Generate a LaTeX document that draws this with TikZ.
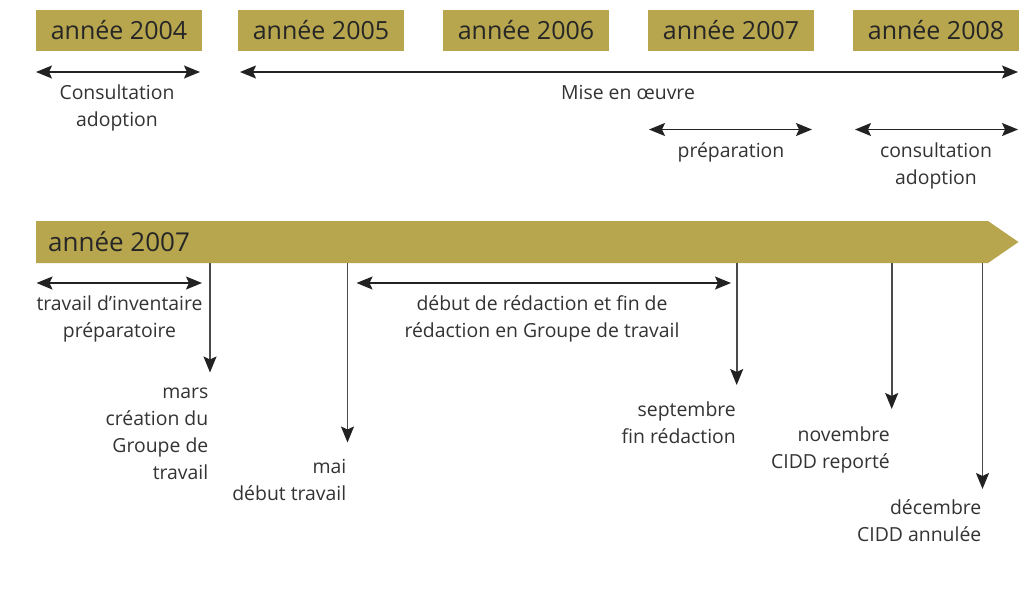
\documentclass[tikz,border=0pt]{standalone}
\usepackage{fontspec}
\setmainfont{Open Sans}
\usetikzlibrary{arrows.meta}
\definecolor{gold}{HTML}{B7A64E}
\definecolor{txt}{HTML}{333333}
\definecolor{boxtxt}{HTML}{262626}
\definecolor{ln}{HTML}{222222}
\definecolor{vln}{HTML}{4A4A4A}
\begin{document}
\begin{tikzpicture}[x=1pt,y=-1pt,
  yearbox/.style={fill=gold, minimum width=166pt, minimum height=41pt, inner sep=0pt,
    font=\fontsize{25}{30}\selectfont, text=boxtxt},
  lbl/.style={font=\fontsize{19.4}{26.7}\selectfont, text=txt, align=center, inner sep=0pt, anchor=base},
  rlbl/.style={lbl, align=right, anchor=base east},
  span/.style={draw=ln, line width=1.5pt, {Stealth[length=16pt,width=13pt,inset=3pt]}-{Stealth[length=16pt,width=13pt,inset=3pt]}},
  drop/.style={draw=vln, line width=1.6pt, -{Stealth[length=16pt,width=13pt,inset=3pt,color=ln]}}]
\useasboundingbox (0,0) rectangle (1024,603);
\fill[white] (0,0) rectangle (1024,603);

% year boxes
\node[yearbox] (y2004) at (119,30.5) {année 2004};
\node[yearbox] (y2005) at (321,30.5) {année 2005};
\node[yearbox] (y2006) at (526,30.5) {année 2006};
\node[yearbox] (y2007) at (731,30.5) {année 2007};
\node[yearbox] (y2008) at (936,30.5) {année 2008};

% first row of spans
\coordinate (a1l) at (36,72);   \coordinate (a1r) at (200,72);
\coordinate (a2l) at (240,72);  \coordinate (a2r) at (1018,72);
\draw[span] (a1l) -- (a1r);
\draw[span] (a2l) -- (a2r);
\node[lbl] (consult1) at (117,126) {Consultation\\adoption};
\node[lbl] (miseoeuvre) at (628,99) {Mise en œuvre};

% second row of spans
\coordinate (a3l) at (649,129.5); \coordinate (a3r) at (812,129.5);
\coordinate (a4l) at (855,129.5); \coordinate (a4r) at (1018,129.5);
\draw[span] (a3l) -- (a3r);
\draw[span] (a4l) -- (a4r);
\node[lbl] (prep) at (731,157) {préparation};
\node[lbl] (consult2) at (936,184) {consultation\\adoption};

% 2007 band
\fill[gold] (36,221) -- (988,221) -- (1018.5,242) -- (988,263) -- (36,263) -- cycle;
\node[font=\fontsize{26}{30}\selectfont, text=boxtxt, anchor=base west, inner sep=0pt] (band) at (48,251) {année 2007};

% spans under band
\coordinate (b1l) at (36.5,283); \coordinate (b1r) at (202,283);
\coordinate (b2l) at (356.5,283); \coordinate (b2r) at (731,283);
\draw[span] (b1l) -- (b1r);
\draw[span] (b2l) -- (b2r);
\node[lbl] (inventaire) at (119.5,337) {travail d’inventaire\\préparatoire};
\node[lbl] (redaction) at (542,337) {début de rédaction et fin de\\rédaction en Groupe de travail};

% drops
\coordinate (d1s) at (210,263);   \coordinate (d1e) at (210,372.5);
\coordinate (d2s) at (347.5,263); \coordinate (d2e) at (347.5,442.5);
\coordinate (d3s) at (736.7,263); \coordinate (d3e) at (736.7,385);
\coordinate (d4s) at (891.7,263); \coordinate (d4e) at (891.7,409);
\coordinate (d5s) at (982.5,263); \coordinate (d5e) at (982.5,489);
\draw[drop] (d1s) -- (d1e);
\draw[drop] (d2s) -- (d2e);
\draw[drop] (d3s) -- (d3e);
\draw[drop] (d4s) -- (d4e);
\draw[drop] (d5s) -- (d5e);

\node[rlbl] (mars) at (208.5,479) {mars\\création du\\Groupe de\\travail};
\node[rlbl] (mai) at (346.5,500) {mai\\début travail};
\node[rlbl] (sept) at (736,443) {septembre\\fin rédaction};
\node[rlbl] (nov) at (890,468) {novembre\\CIDD reporté};
\node[rlbl] (dec) at (981.5,541) {décembre\\CIDD annulée};
\end{tikzpicture}
\end{document}
